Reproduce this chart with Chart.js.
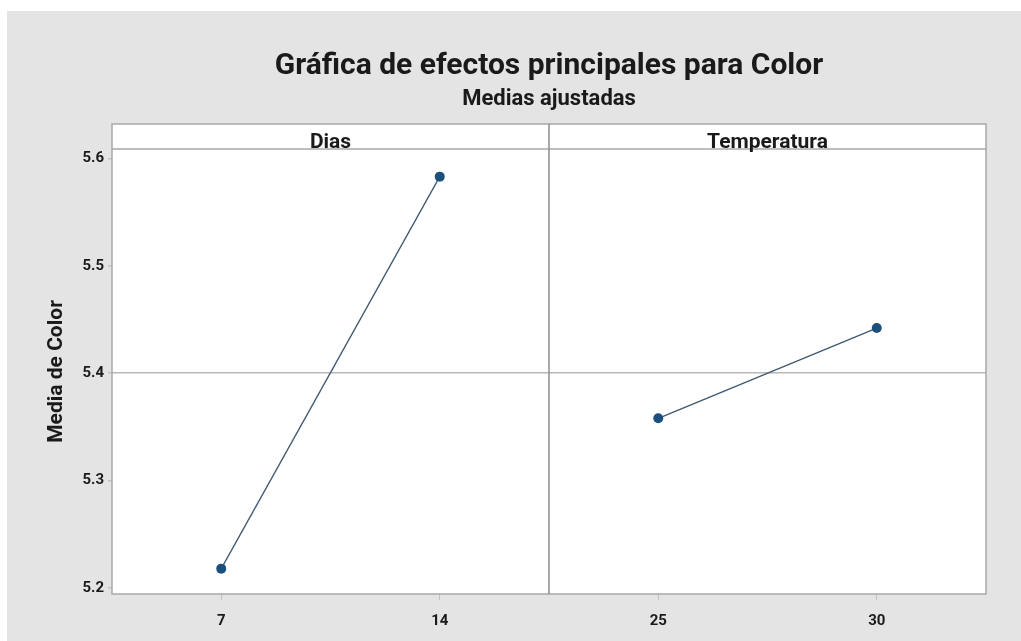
<!DOCTYPE html>
<html>
<head>
<meta charset="utf-8">
<script src="https://cdn.jsdelivr.net/npm/chart.js@4.4.1/dist/chart.umd.min.js"></script>
<style>
  html, body { margin: 0; padding: 0; background: #ffffff; }
  #wrap { width: 1021px; height: 641px; position: relative; }
</style>
</head>
<body>
<div id="wrap"><canvas id="chart" width="1021" height="641"></canvas></div>
<script>
// main effects plot data (adjusted means)
const factors = ["Dias", "Temperatura"];
const diasLevels = ["7", "14"];
const diasMeans = [5.218, 5.583];
const tempLevels = ["25", "30"];
const tempMeans = [5.358, 5.442];
const grandMean = 5.4;
const yTicks = [5.2, 5.3, 5.4, 5.5, 5.6];

const tickLabels = diasLevels.concat(tempLevels);
const tickPos = [0.5, 1.5, 2.5, 3.5];

const navy = "#1c4f7c";
const lineCol = "#3e5870";

const panelPlugin = {
    id: "panels",
    beforeDraw(chart) {
        const c = chart.ctx;
        c.save();
        c.fillStyle = "#ffffff";
        c.fillRect(0, 0, chart.width, chart.height);
        c.fillStyle = "#e4e4e4";
        c.fillRect(7, 11, chart.width - 7, chart.height - 11);
        const a = chart.chartArea;
        c.fillStyle = "#ffffff";
        c.fillRect(a.left, a.top, a.right - a.left, a.bottom - a.top);
        c.restore();
    },
    afterDraw(chart) {
        const c = chart.ctx;
        const a = chart.chartArea;
        const x = chart.scales.x;
        const stripBottom = a.top + 25;
        c.save();
        c.strokeStyle = "#a8a8a8";
        c.lineWidth = 1.5;
        c.strokeRect(a.left, a.top, a.right - a.left, a.bottom - a.top);
        c.beginPath();
        c.moveTo(a.left, stripBottom);
        c.lineTo(a.right, stripBottom);
        c.stroke();
        c.strokeStyle = "#8c8c8c";
        c.beginPath();
        c.moveTo(x.getPixelForValue(2), a.top);
        c.lineTo(x.getPixelForValue(2), a.bottom);
        c.stroke();

        c.fillStyle = "#1a1a1a";
        c.textAlign = "center";
        c.textBaseline = "middle";
        c.font = "bold 21px Roboto";
        c.fillText(factors[0], x.getPixelForValue(1), a.top + 19);
        c.fillText(factors[1], x.getPixelForValue(3), a.top + 19);

        c.font = "bold 30px Roboto";
        c.fillText("Gráfica de efectos principales para Color", 549, 66);
        c.font = "bold 22px Roboto";
        c.fillText("Medias ajustadas", 549, 99);

        // y axis title, centred on the panel body below the strip
        c.translate(57, (stripBottom + a.bottom) / 2);
        c.rotate(-Math.PI / 2);
        c.font = "bold 21px Roboto";
        c.fillText("Media de Color", 0, 0);
        c.restore();
    }
};

new Chart(document.getElementById("chart"), {
    type: "line",
    data: {
        datasets: [
            {
                label: factors[0],
                data: diasMeans.map((v, i) => ({ x: tickPos[i], y: v }))
            },
            {
                label: factors[1],
                data: tempMeans.map((v, i) => ({ x: tickPos[i + 2], y: v }))
            }
        ]
    },
    options: {
        responsive: false,
        animation: false,
        layout: { padding: { left: 0, top: 124, right: 35, bottom: 0 } },
        elements: {
            line: { borderColor: lineCol, borderWidth: 1.3, tension: 0 },
            point: { radius: 5, backgroundColor: navy, borderColor: navy, borderWidth: 0 }
        },
        plugins: {
            legend: { display: false },
            tooltip: { enabled: false }
        },
        scales: {
            x: {
                type: "linear",
                min: 0,
                max: 4,
                afterBuildTicks: s => { s.ticks = tickPos.map(v => ({ value: v })); },
                afterFit: s => { s.height = 47; },
                ticks: {
                    callback: (v) => tickLabels[tickPos.indexOf(v)],
                    color: "#1a1a1a",
                    font: { family: "Roboto", weight: "bold", size: 15 },
                    padding: 12,
                    maxRotation: 0
                },
                grid: { drawOnChartArea: false, tickLength: 6, tickColor: "#c4c4c4" },
                border: { display: false }
            },
            y: {
                min: 5.1944,
                max: 5.632,
                afterBuildTicks: s => { s.ticks = yTicks.map(v => ({ value: v })); },
                afterFit: s => { s.width = 112; },
                ticks: {
                    callback: v => v.toFixed(1),
                    color: "#1a1a1a",
                    font: { family: "Roboto", weight: "bold", size: 15 },
                    padding: 4
                },
                grid: {
                    color: ctx => (ctx.tick && Math.abs(ctx.tick.value - grandMean) < 1e-6) ? "#b8b8b8" : "rgba(0,0,0,0)",
                    lineWidth: 1.5,
                    tickLength: 4,
                    tickColor: "#c4c4c4"
                },
                border: { display: false }
            }
        }
    },
    plugins: [panelPlugin]
});
</script>
</body>
</html>
